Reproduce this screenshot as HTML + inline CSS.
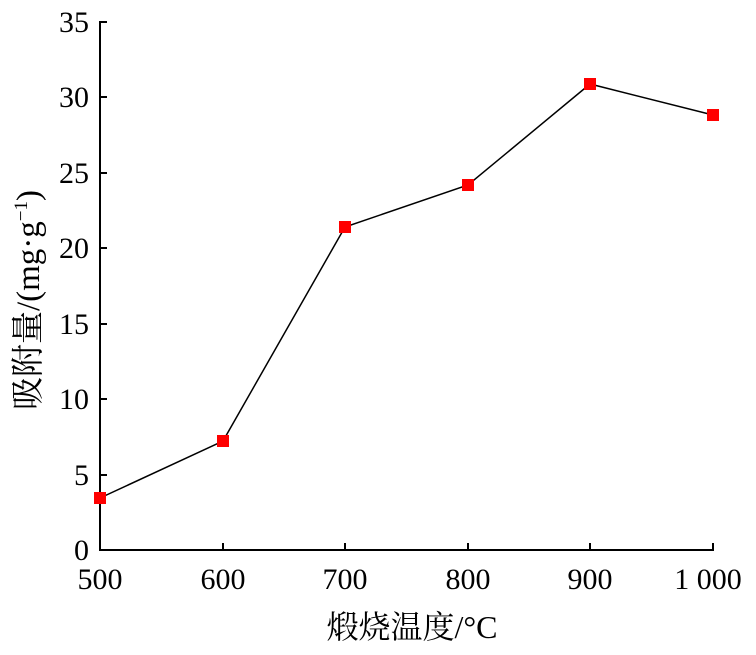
<!DOCTYPE html>
<html><head><meta charset="utf-8"><style>body{margin:0;background:#fff} text{font-family:"Liberation Serif","Noto Serif CJK SC",serif}</style></head>
<body>
<svg width="756" height="650" xmlns="http://www.w3.org/2000/svg">
<g stroke="#000" stroke-width="2" fill="none">
<line x1="100" y1="21" x2="100" y2="551"/>
<line x1="99" y1="550" x2="714" y2="550"/>
<line x1="100" y1="475" x2="107" y2="475"/>
<line x1="100" y1="399" x2="107" y2="399"/>
<line x1="100" y1="324" x2="107" y2="324"/>
<line x1="100" y1="248" x2="107" y2="248"/>
<line x1="100" y1="173" x2="107" y2="173"/>
<line x1="100" y1="97" x2="107" y2="97"/>
<line x1="100" y1="22" x2="107" y2="22"/>
<line x1="223" y1="550" x2="223" y2="543"/>
<line x1="345" y1="550" x2="345" y2="543"/>
<line x1="468" y1="550" x2="468" y2="543"/>
<line x1="590" y1="550" x2="590" y2="543"/>
<line x1="713" y1="550" x2="713" y2="543"/>
</g>
<polyline fill="none" stroke="#000" stroke-width="1.5" points="100,498 223,441 345,227 468,185 590,84 713,115"/>
<g fill="#f00">
<rect x="94" y="492" width="12" height="12"/>
<rect x="217" y="435" width="12" height="12"/>
<rect x="339" y="221" width="12" height="12"/>
<rect x="462" y="179" width="12" height="12"/>
<rect x="584" y="78" width="12" height="12"/>
<rect x="707" y="109" width="12" height="12"/>
</g>
<g style="font-size:30px" text-anchor="end">
<text x="89" y="560">0</text>
<text x="89" y="485">5</text>
<text x="89" y="409">10</text>
<text x="89" y="334">15</text>
<text x="89" y="258">20</text>
<text x="89" y="183">25</text>
<text x="89" y="107">30</text>
<text x="89" y="32">35</text>
</g>
<g style="font-size:30px" text-anchor="middle">
<text x="100" y="589">500</text>
<text x="223" y="589">600</text>
<text x="345" y="589">700</text>
<text x="468" y="589">800</text>
<text x="590" y="589">900</text>
<text x="708" y="589">1 000</text>
</g>
<text style="font-size:32px" text-anchor="middle" x="412" y="638">煅烧温度/°C</text>
<text style="font-size:33px" text-anchor="middle" transform="translate(39,300) rotate(-90)">吸附量/(mg·g<tspan style="font-size:19px" dy="-12">−1</tspan><tspan dy="12">)</tspan></text>
</svg>
</body></html>
